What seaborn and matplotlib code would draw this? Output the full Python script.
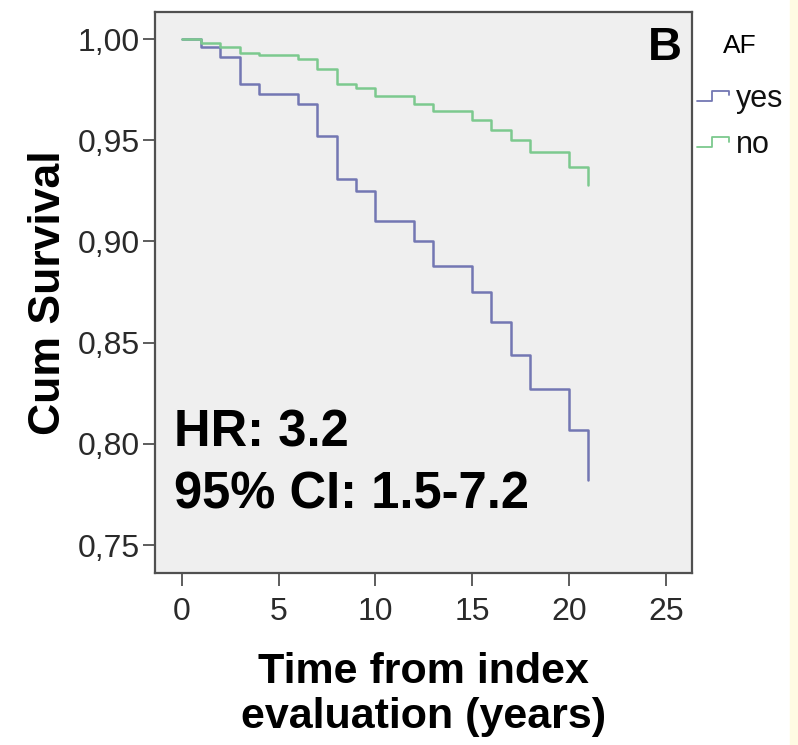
import numpy as np
import pandas as pd
import matplotlib
matplotlib.use("Agg")
import matplotlib.pyplot as plt
import seaborn as sns
from matplotlib.legend_handler import HandlerBase
from matplotlib.lines import Line2D
from matplotlib.patches import Rectangle

# Curvas de Kaplan-Meier (años, supervivencia acumulada)
tiempo_yes = [0, 1, 2, 3, 4, 6, 7, 8, 9, 10, 12, 13, 15, 16, 17, 18, 20, 21]
surv_yes = [1.000, 0.996, 0.991, 0.978, 0.973, 0.968, 0.952, 0.931, 0.925,
            0.910, 0.900, 0.888, 0.875, 0.860, 0.844, 0.827, 0.807, 0.782]

tiempo_no = [0, 1, 2, 3, 4, 6, 7, 8, 9, 10, 12, 13, 15, 16, 17, 18, 20, 21]
surv_no = [1.000, 0.998, 0.996, 0.993, 0.992, 0.990, 0.985, 0.978, 0.976,
           0.972, 0.968, 0.9645, 0.960, 0.955, 0.950, 0.944, 0.937, 0.928]

grupos = ["yes", "no"]
colores = ["#7377b3", "#7cc98e"]

xticks = [0, 5, 10, 15, 20, 25]
yticks = [0.75, 0.80, 0.85, 0.90, 0.95, 1.00]
ytick_labels = ["0,75", "0,80", "0,85", "0,90", "0,95", "1,00"]

texto_hr = "HR: 3.2"
texto_ci = "95% CI: 1.5-7.2"


class StepHandler(HandlerBase):
    # icono escalonado como en la leyenda de SPSS
    def create_artists(self, legend, orig_handle, xdescent, ydescent,
                       width, height, fontsize, trans):
        xs = np.array([0, 0.42, 0.42, 0.88, 0.88]) * width - xdescent
        ys = np.array([0.3, 0.3, 0.75, 0.75, 0.55]) * height - ydescent
        line = Line2D(xs, ys, color=orig_handle.get_color(), lw=1.3)
        line.set_transform(trans)
        return [line]


def crear_grafico():
    df = pd.concat([
        pd.DataFrame({"tiempo": tiempo_yes, "surv": surv_yes, "AF": "yes"}),
        pd.DataFrame({"tiempo": tiempo_no, "surv": surv_no, "AF": "no"}),
    ], ignore_index=True)

    sns.set_theme(style="white")
    plt.rcParams["font.family"] = ["Liberation Sans", "DejaVu Sans"]
    plt.rcParams["text.color"] = "black"
    plt.rcParams["axes.labelcolor"] = "black"

    fig = plt.figure(figsize=(7.98, 7.45), dpi=100)
    ax = fig.add_axes([0.1942, 0.2309, 0.6726, 0.7534])

    sns.lineplot(data=df, x="tiempo", y="surv", hue="AF",
                 palette=dict(zip(grupos, colores)), drawstyle="steps-post",
                 estimator=None, lw=1.8, legend=False, ax=ax)

    ax.set_xlim(-1.38, 26.34)
    ax.set_ylim(0.7362, 1.0135)
    ax.set_xticks(xticks)
    ax.set_yticks(yticks)
    ax.set_yticklabels(ytick_labels)
    ax.set_facecolor("#efefef")

    for sp in ax.spines.values():
        sp.set_color("#505050")
        sp.set_linewidth(1.6)

    ax.tick_params(bottom=True, left=True, direction="out", length=9,
                   width=1.3, color="#505050", labelsize=23,
                   labelcolor="#2a2a2a")
    ax.tick_params(axis="x", pad=8)
    ax.tick_params(axis="y", pad=2)

    ax.set_ylabel("Cum Survival", fontsize=32, fontweight="bold")
    ax.yaxis.set_label_coords(-0.160, 0.5)
    ax.set_xlabel("Time from index\nevaluation (years)", fontsize=31,
                  fontweight="bold", linespacing=1.15)
    ax.xaxis.set_label_coords(0.5, -0.141)

    ax.text(0.035, 0.2245, texto_hr, transform=ax.transAxes, fontsize=36.5,
            fontweight="bold", va="baseline")
    ax.text(0.035, 0.115, texto_ci, transform=ax.transAxes, fontsize=36.5,
            fontweight="bold", va="baseline")
    ax.text(0.982, 0.914, "B", transform=ax.transAxes, fontsize=34,
            fontweight="bold", ha="right", va="baseline")

    handles = [Line2D([], [], color=c) for c in colores]
    leg = fig.legend(handles, grupos, title="AF", loc="upper left",
                     bbox_to_anchor=(0.873, 0.954), frameon=False,
                     fontsize=22, title_fontsize=19,
                     handler_map={Line2D: StepHandler()},
                     handlelength=1.2, handletextpad=0.1,
                     labelspacing=0.54, borderpad=0, borderaxespad=0)
    leg._legend_box.sep = 18.5
    for t in leg.get_texts():
        t.set_color("#111111")

    # franja amarillenta del borde derecho de la imagen original
    fig.patches.append(Rectangle((790 / 798, 0), 8 / 798, 1,
                                 transform=fig.transFigure,
                                 color="#fffbe3", zorder=0))

    fig.savefig("out.png", dpi=100)


if __name__ == "__main__":
    crear_grafico()
